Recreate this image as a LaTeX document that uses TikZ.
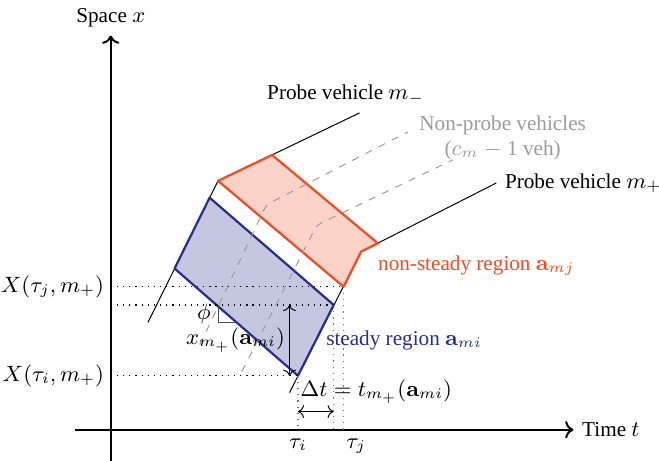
\documentclass[tikz,border=0pt]{standalone}
\usepackage[no-math]{fontspec}
\setmainfont{Liberation Serif}
\usepackage{amsmath,amssymb}
\usetikzlibrary{arrows.meta,positioning,calc}
\definecolor{nsred}{RGB}{238,77,36}
\definecolor{stblue}{RGB}{40,45,140}
\definecolor{npgray}{RGB}{155,155,155}

\begin{document}
\begin{tikzpicture}[font={\fontsize{8.6pt}{10pt}\selectfont},
    probe/.style={black,line width=0.4pt},
    nonprobe/.style={npgray,line width=0.4pt,dash pattern=on 3pt off 3pt,rounded corners=2pt},
    guide/.style={dotted,line width=0.5pt},
    region/.style={line width=0.9pt,line join=round}]
  \useasboundingbox (-1.58,-0.44) rectangle (7.82,6.13);
  % axes
  \coordinate (o) at (0,0);
  \node (xlab) at (0,5.88) {Space $x$};
  \node[anchor=west] (tlab) at (6.60,0) {Time $t$};
  \draw[thick,->] (0,-0.44) -- (xlab.south);
  \draw[thick,->] (-0.51,0) -- (tlab.west);
  % probe trajectories
  \coordinate (S1) at (0.53,1.53);
  \coordinate (K1) at (1.53,3.55);
  \coordinate (E1) at (3.55,4.52);
  \coordinate (S2) at (2.55,0.53);
  \coordinate (K2) at (3.57,2.54);
  \coordinate (E2) at (5.50,3.52);
  \draw[probe] (S1) -- (K1) -- (E1);
  \draw[probe] (S2) -- (K2) -- (E2);
  % steady region
  \coordinate (A) at (0.91,2.30);
  \coordinate (B) at (1.41,3.31);
  \coordinate (C) at (3.18,1.78);
  \coordinate (D) at (2.67,0.77);
  \draw[region,stblue,fill=stblue!27] (A) -- (B) -- (C) -- (D) -- cycle;
  % non-steady region
  \coordinate (O2) at (2.30,3.92);
  \coordinate (O3) at (3.81,2.66);
  \coordinate (O5) at (3.32,2.04);
  \draw[region,nsred,fill=nsred!25] (K1) -- (O2) -- (O3) -- (K2) -- (O5) -- cycle;
  % non-probe vehicles
  \coordinate (N1s) at (1.27,1.21);
  \coordinate (N1k) at (2.22,3.21);
  \coordinate (N1e) at (4.24,4.25);
  \coordinate (N2s) at (1.87,0.83);
  \coordinate (N2k) at (2.94,2.92);
  \coordinate (N2e) at (4.88,3.85);
  \draw[nonprobe] (N1s) -- (N1k) -- (N1e);
  \draw[nonprobe] (N2s) -- (N2k) -- (N2e);
  % guides
  \draw[guide] (o |- O5) -- (O5);
  \draw[guide] (o |- C) -- (C);
  \draw[guide] (o |- D) -- (D);
  \draw[guide,black!55] (D) -- (D |- o);
  \draw[guide,black!55] (C) -- (C |- o);
  \draw[guide,black!55] (O5) -- (O5 |- o);
  \node[left,inner sep=2.5pt] (xj) at (o |- O5) {$X(\tau_j,m_+)$};
  \node[left,inner sep=2.5pt] (xi) at (o |- D) {$X(\tau_i,m_+)$};
  \node[below] (ti) at (D |- o) {$\tau_i$};
  \node[below,xshift=0.18cm] (tj) at (O5 |- o) {$\tau_j$};
  % lengths
  \coordinate (dtl) at ($(D |- o)+(0,0.26)$);
  \coordinate (dtr) at ($(C |- o)+(0,0.26)$);
  \draw[<->] (dtl) -- (dtr);
  \node[anchor=west] (dtlab) at (2.58,0.54) {$\Delta t = t_{m_+}(\mathbf{a}_{mi})$};
  \draw[<->] (S2 |- C) -- (S2 |- D);
  \node (xlen) at (1.78,1.28) {$x_{m_+}(\mathbf{a}_{mi})$};
  \coordinate (ra) at (1.53,1.53);
  \draw[black!70] (1.53,1.76) -- (ra) -- (1.79,1.53);
  \node (phi) at (1.33,1.65) {$\phi$};
  % labels
  \node[above,xshift=-0.2cm] (pm) at (E1) {Probe vehicle $m_-$};
  \node[right] (pp) at (E2) {Probe vehicle $m_+$};
  \node[align=center,text=npgray] (np) at (5.59,4.16) {Non-probe vehicles\\($c_m$ $-$ 1 veh)};
  \node[anchor=west,text=stblue] (stlab) at (2.95,1.28) {steady region $\mathbf{a}_{mi}$};
  \node[anchor=west,text=nsred] (nslab) at (3.69,2.34) {non-steady region $\mathbf{a}_{mj}$};
\end{tikzpicture}
\end{document}
